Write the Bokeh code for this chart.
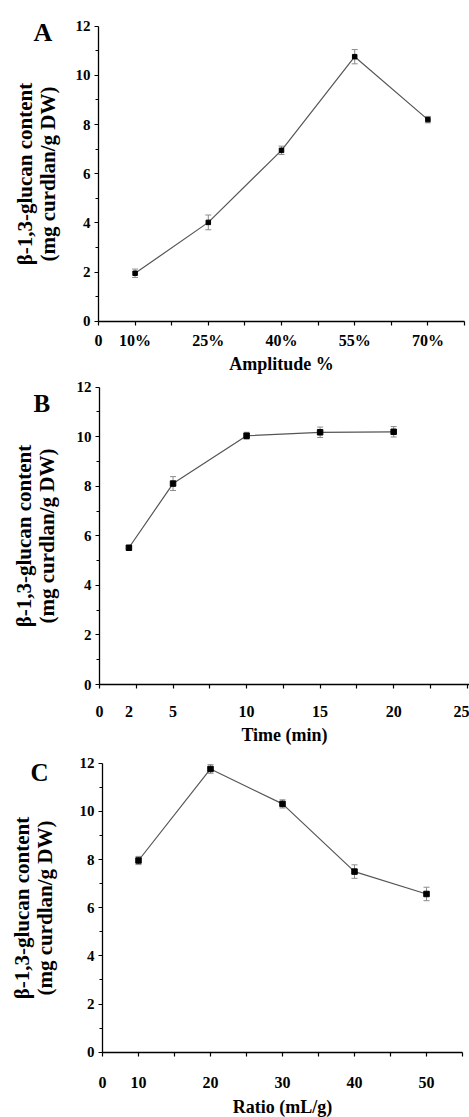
from bokeh.plotting import figure
from bokeh.layouts import column
from bokeh.models import (ColumnDataSource, Whisker, TeeHead, FixedTicker, Label,
                          Range1d, LinearAxis)
from bokeh.embed import file_html
from bokeh.resources import INLINE

# ---------------- data ----------------
amplitude_labels = ["10%", "25%", "40%", "55%", "70%"]
amplitude_means = [1.95, 4.02, 6.95, 10.76, 8.20]
amplitude_err = [0.17, 0.30, 0.17, 0.29, 0.13]

time_min = [2, 5, 10, 15, 20]
time_means = [5.52, 8.11, 10.04, 10.18, 10.20]
time_err = [0.04, 0.28, 0.14, 0.21, 0.21]
time_tick_labels = ["0", "2", "5", "10", "15", "20", "25"]

ratio_labels = ["10", "20", "30", "40", "50"]
ratio_means = [7.96, 11.76, 10.31, 7.50, 6.57]
ratio_err = [0.17, 0.18, 0.17, 0.28, 0.28]

y_major = [0, 2, 4, 6, 8, 10, 12]
y_minor = [1, 3, 5, 7, 9, 11]

Y_TITLE = "β-1,3-glucan content\n(mg curdlan/g DW)"
FONT = "Liberation Serif"
W = 469


def make_panel(letter, xs, ys, errs, x_end, x_major, x_minor, overrides, xlabel,
               H, x0px, x1px, y0px, y12px, x_standoff, x_label_standoff,
               y_label_size, y_label_standoff, letter_px, letter_size, msize,
               axis_to_edge=False):
    # pixel geometry -> ranges (frame covers the whole canvas)
    kx = (x1px - x0px) / x_end
    ky = (y0px - y12px) / 12.0
    xr = Range1d(-x0px / kx, (W - x0px) / kx)
    yr = Range1d(-(H - y0px) / ky, 12 + y12px / ky)

    p = figure(width=W, height=H, x_range=xr, y_range=yr,
               output_backend="svg", toolbar_location=None,
               x_axis_location=None, y_axis_location=None,
               min_border=0, min_border_left=0, min_border_right=0,
               min_border_top=0, min_border_bottom=0)
    p.outline_line_color = None
    p.grid.visible = False
    p.background_fill_color = "white"

    src = ColumnDataSource(dict(x=xs, y=ys,
                                upper=[v + e for v, e in zip(ys, errs)],
                                lower=[v - e for v, e in zip(ys, errs)]))
    p.line("x", "y", source=src, line_color="#555555", line_width=1.2)
    wh = Whisker(base="x", upper="upper", lower="lower", source=src,
                 line_color="#8c8c8c", line_width=1,
                 upper_head=TeeHead(size=6, line_color="#8c8c8c", line_width=1),
                 lower_head=TeeHead(size=6, line_color="#8c8c8c", line_width=1))
    p.add_layout(wh)
    p.scatter("x", "y", source=src, marker="square", size=msize,
              fill_color="black", line_color="black")

    xa = LinearAxis(fixed_location=0,
                    bounds=(0, xr.end if axis_to_edge else x_end))
    xa.ticker = FixedTicker(ticks=x_major, minor_ticks=x_minor)
    xa.major_label_overrides = overrides
    xa.major_tick_out = 0
    xa.major_tick_in = 0
    xa.minor_tick_out = 4
    xa.minor_tick_in = 0
    xa.minor_tick_line_color = "black"
    xa.minor_tick_line_width = 1.2
    xa.axis_line_width = 1.3
    xa.axis_line_color = "black"
    xa.major_label_standoff = x_standoff
    xa.major_label_text_font = FONT
    xa.major_label_text_font_style = "bold"
    xa.major_label_text_font_size = "16px"
    xa.major_label_text_color = "black"
    xa.axis_label = xlabel
    xa.axis_label_text_font = FONT
    xa.axis_label_text_font_style = "bold"
    xa.axis_label_text_font_size = "18px"
    xa.axis_label_text_color = "black"
    xa.axis_label_standoff = x_label_standoff
    p.add_layout(xa, "below")

    ya = LinearAxis(fixed_location=0, bounds=(0, 12))
    ya.ticker = FixedTicker(ticks=y_major, minor_ticks=y_minor)
    ya.major_tick_out = 4
    ya.major_tick_in = 0
    ya.minor_tick_out = 3
    ya.minor_tick_in = 0
    ya.major_tick_line_width = 1.2
    ya.minor_tick_line_width = 1.2
    ya.minor_tick_line_color = "black"
    ya.axis_line_width = 1.3
    ya.axis_line_color = "black"
    ya.major_label_standoff = 4
    ya.major_label_text_font = FONT
    ya.major_label_text_font_style = "bold"
    ya.major_label_text_font_size = "15px"
    ya.major_label_text_color = "black"
    ya.axis_label = Y_TITLE
    ya.axis_label_text_font = FONT
    ya.axis_label_text_font_style = "bold"
    ya.axis_label_text_font_size = y_label_size
    ya.axis_label_text_color = "black"
    ya.axis_label_text_line_height = 0.95
    ya.axis_label_standoff = y_label_standoff
    p.add_layout(ya, "left")

    # panel letter, placed from its pixel position (left edge, baseline)
    lpx, lpy = letter_px
    p.add_layout(Label(x=(lpx - x0px) / kx, y=(y0px - lpy) / ky, text=letter,
                       text_font=FONT, text_font_style="bold",
                       text_font_size=letter_size, text_color="black",
                       text_align="left", text_baseline="alphabetic"))
    return p


# Panel A: categorical positions at odd half-steps
a_pos = [2 * i + 1 for i in range(len(amplitude_labels))]
a_over = {0: "0"}
a_over.update({pos: lab for pos, lab in zip(a_pos, amplitude_labels)})
pA = make_panel("A", a_pos, amplitude_means, amplitude_err, 10,
                [0] + a_pos, list(range(0, 11)), a_over, "Amplitude %",
                H=375, x0px=98, x1px=464, y0px=320.7, y12px=25.7,
                x_standoff=7, x_label_standoff=1,
                y_label_size="21px", y_label_standoff=13,
                letter_px=(33, 32), letter_size="26px", msize=4.5)

# Panel B: numeric time axis
b_major = [int(t) for t in time_tick_labels]
pB = make_panel("B", time_min, time_means, time_err, 25,
                b_major, [i * 2.5 for i in range(11)],
                {t: lab for t, lab in zip(b_major, time_tick_labels)}, "Time (min)",
                H=375, x0px=99, x1px=466.7, y0px=309, y12px=11.7,
                x_standoff=17, x_label_standoff=5,
                y_label_size="21px", y_label_standoff=15,
                letter_px=(33, 28.3), letter_size="25px", msize=5.5,
                axis_to_edge=True)

# Panel C: categorical positions at odd half-steps
c_pos = [2 * i + 1 for i in range(len(ratio_labels))]
c_over = {0: "0"}
c_over.update({pos: lab for pos, lab in zip(c_pos, ratio_labels)})
pC = make_panel("C", c_pos, ratio_means, ratio_err, 10,
                [0] + c_pos, list(range(0, 11)), c_over, "Ratio (mL/g)",
                H=367, x0px=102, x1px=462, y0px=301.7, y12px=12.7,
                x_standoff=21, x_label_standoff=5,
                y_label_size="21px", y_label_standoff=20,
                letter_px=(30, 21.7), letter_size="25px", msize=5.5)

layout = column(pA, pB, pC, spacing=0)
open("out.html", "w").write(file_html(layout, INLINE))
